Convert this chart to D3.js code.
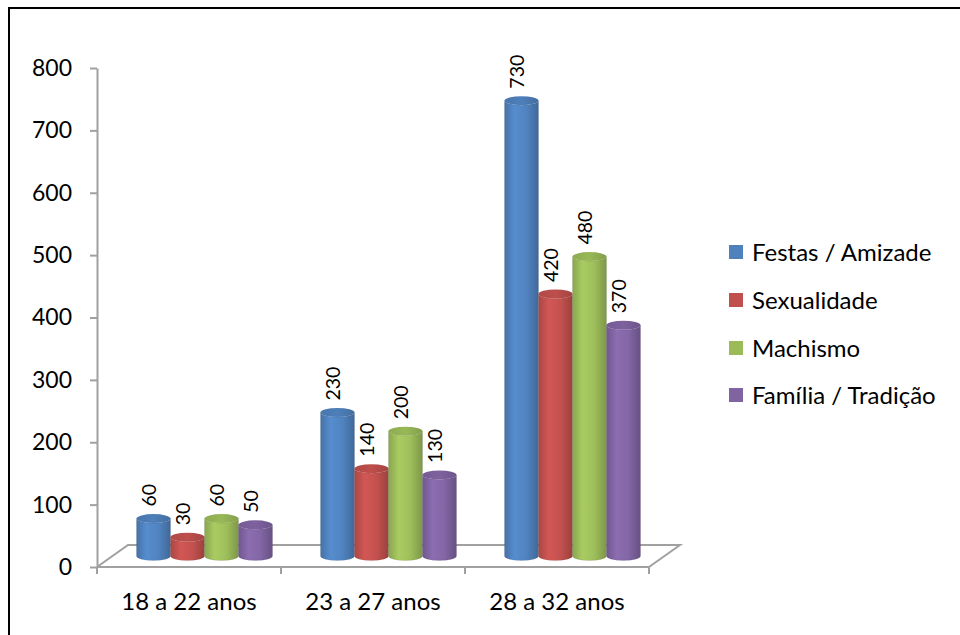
<!DOCTYPE html>
<html>
<head>
<meta charset="utf-8">
<script src="https://cdn.jsdelivr.net/npm/d3@7"></script>
<style>
  html, body { margin: 0; padding: 0; background: #fff; }
  svg { display: block; font-family: Lato, "Open Sans", sans-serif; }
</style>
</head>
<body>
<svg id="chart" width="960" height="635"></svg>
<script>
// Age groups and motive series
const categories = ["18 a 22 anos", "23 a 27 anos", "28 a 32 anos"];
const seriesNames = ["Festas / Amizade", "Sexualidade", "Machismo", "Família / Tradição"];
const seriesColors = ["#4F81BD", "#C0504D", "#9BBB59", "#8064A2"];
const festas = [60, 230, 730];
const sexualidade = [30, 140, 420];
const machismo = [60, 200, 480];
const familia = [50, 130, 370];
const yTicks = [0, 100, 200, 300, 400, 500, 600, 700, 800];

const seriesValues = [festas, sexualidade, machismo, familia];

const svg = d3.select("#chart");

// outer frame (runs off the right and bottom edges)
svg.append("path")
  .attr("d", "M9,640 L9,8 L965,8")
  .attr("fill", "none").attr("stroke", "#000").attr("stroke-width", 2);

const plotLeft = 97, plotRight = 649, plotBottom = 567, plotTop = 68;
const depthX = 31, depthY = 22;  // floor depth offset

const x0 = d3.scaleBand().domain(categories).range([plotLeft, plotRight]).paddingInner(0).paddingOuter(0);
const groupW = 136;
const x1 = d3.scaleBand().domain(seriesNames).range([0, groupW]).padding(0);
const y = d3.scaleLinear().domain([0, 800]).range([plotBottom, plotTop]);

// gradients for cylinder bodies and caps
const defs = svg.append("defs");
seriesColors.forEach((c, i) => {
  const base = d3.color(c);
  const g = defs.append("linearGradient").attr("id", "body" + i)
    .attr("x1", "0%").attr("x2", "100%").attr("y1", "0%").attr("y2", "0%");
  g.append("stop").attr("offset", "0%").attr("stop-color", base.darker(0.35));
  g.append("stop").attr("offset", "30%").attr("stop-color", base.brighter(0.25));
  g.append("stop").attr("offset", "65%").attr("stop-color", base.brighter(0.05));
  g.append("stop").attr("offset", "100%").attr("stop-color", base.darker(0.6));
  const t = defs.append("linearGradient").attr("id", "cap" + i)
    .attr("x1", "0%").attr("x2", "100%").attr("y1", "0%").attr("y2", "0%");
  t.append("stop").attr("offset", "0%").attr("stop-color", base.darker(0.25));
  t.append("stop").attr("offset", "50%").attr("stop-color", base.darker(0.05));
  t.append("stop").attr("offset", "100%").attr("stop-color", base.darker(0.45));
});

// floor
const floorPts = [
  [plotLeft, plotBottom], [plotLeft + depthX, plotBottom - depthY],
  [plotRight + depthX, plotBottom - depthY], [plotRight, plotBottom]
];
svg.append("path")
  .attr("d", d3.line()(floorPts))
  .attr("fill", "none").attr("stroke", "#a0a0a0").attr("stroke-width", 2);

// y axis
const yAxis = svg.append("g").attr("transform", `translate(${plotLeft},0)`)
  .call(d3.axisLeft(y).tickValues(yTicks).tickSize(7).tickPadding(18).tickSizeOuter(0));
yAxis.select(".domain").attr("stroke", "#a0a0a0").attr("stroke-width", 2);
yAxis.selectAll(".tick line").attr("stroke", "#a0a0a0").attr("stroke-width", 2);
yAxis.selectAll(".tick text").attr("fill", "#000").style("font-size", "23px").style("font-family", "Lato, sans-serif");

// x axis line with ticks at category boundaries
svg.append("line").attr("x1", plotLeft).attr("x2", plotRight)
  .attr("y1", plotBottom).attr("y2", plotBottom)
  .attr("stroke", "#a0a0a0").attr("stroke-width", 2);
const boundaries = categories.map(c => x0(c)).concat([plotRight]);
svg.selectAll(".xtick").data(boundaries).enter().append("line")
  .attr("x1", d => d).attr("x2", d => d)
  .attr("y1", plotBottom).attr("y2", plotBottom + 7)
  .attr("stroke", "#a0a0a0").attr("stroke-width", 2);
svg.selectAll(".xlabel").data(categories).enter().append("text")
  .attr("x", d => x0(d) + x0.bandwidth() / 2)
  .attr("y", 610)
  .attr("text-anchor", "middle")
  .style("font-size", "24px")
  .text(d => d);

// cylinders
const ry = 4.5;
const baseY = y(0) - depthY / 2;
const bars = [];
categories.forEach((cat, ci) => {
  seriesNames.forEach((s, si) => {
    const v = seriesValues[si][ci];
    const gx = x0(cat) + x0.bandwidth() / 2 + depthX / 2 - groupW / 2;
    const left = gx + x1(s);
    const w = x1.bandwidth();
    const top = y(v) - depthY / 2;
    bars.push({ ci, si, v, left, w, top });
  });
});

const bg = svg.append("g");
bars.forEach(b => {
  const rx = b.w / 2;
  const xl = b.left, xr = b.left + b.w;
  const body = `M${xl},${b.top} L${xl},${baseY} A${rx},${ry} 0 0 0 ${xr},${baseY} L${xr},${b.top} A${rx},${ry} 0 0 1 ${xl},${b.top} Z`;
  bg.append("path").attr("d", body).attr("fill", `url(#body${b.si})`)
    .attr("stroke", "rgba(0,0,0,0.08)").attr("stroke-width", 1);
  bg.append("ellipse")
    .attr("cx", xl + rx).attr("cy", b.top).attr("rx", rx).attr("ry", ry)
    .attr("fill", `url(#cap${b.si})`);
  // value label, rotated
  bg.append("text")
    .attr("transform", `translate(${xl + rx + 2},${b.top - 12}) rotate(-90)`)
    .attr("text-anchor", "start")
    .style("font-size", "19.5px")
    .text(b.v);
});

// legend
const legend = svg.append("g");
const legendY = [252, 300, 348, 395];
seriesNames.forEach((s, i) => {
  legend.append("rect").attr("x", 729).attr("y", legendY[i] - 7)
    .attr("width", 14).attr("height", 14).attr("fill", seriesColors[i]);
  legend.append("text").attr("x", 752).attr("y", legendY[i] + 8.5)
    .style("font-size", "24px").text(s);
});
</script>
</body>
</html>
